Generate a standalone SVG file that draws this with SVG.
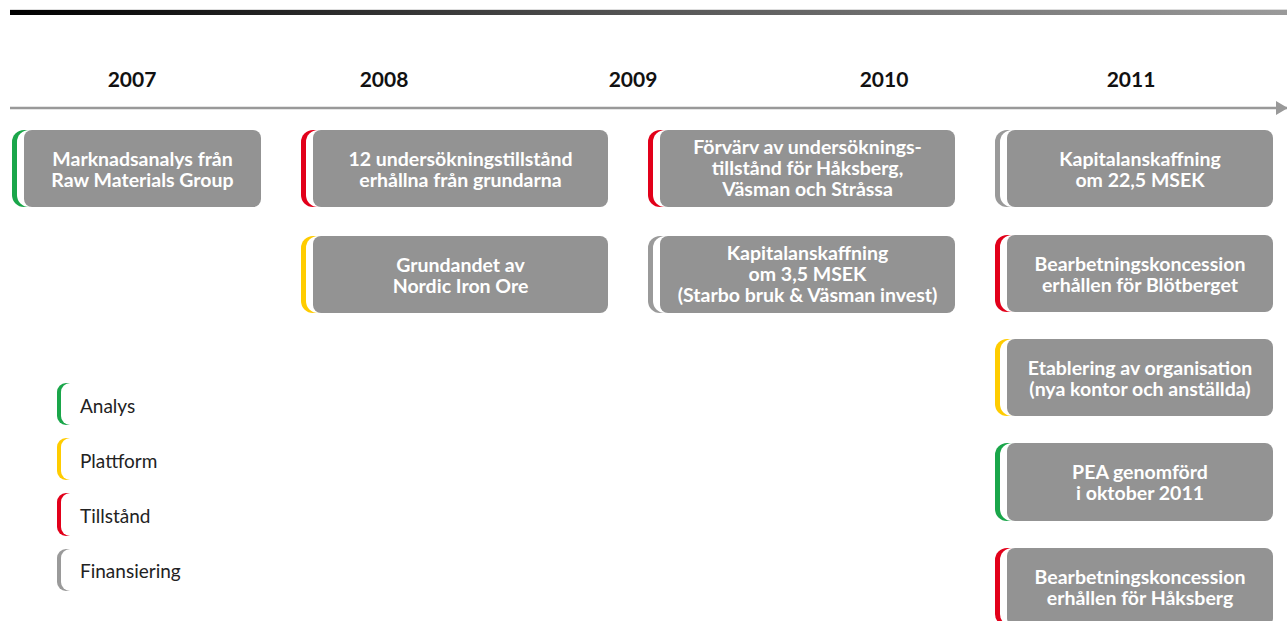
<svg xmlns="http://www.w3.org/2000/svg" width="1287" height="621" viewBox="0 0 1287 621">
<defs>
<linearGradient id="bar" x1="0" y1="0" x2="1" y2="0">
<stop offset="0" stop-color="#000"/>
<stop offset="0.5" stop-color="#555"/>
<stop offset="1" stop-color="#9a9a9a"/>
</linearGradient>
<marker id="arr" markerWidth="12" markerHeight="14" refX="11" refY="7" orient="auto" markerUnits="userSpaceOnUse">
<path d="M0,0 L12,7 L0,14 Z" fill="#999"/>
</marker>
</defs>
<style>
.box{fill:#939393}
.bt{font-family:Lato,"Liberation Sans",sans-serif;font-weight:bold;font-size:19.5px;fill:#fff;text-anchor:middle}
.yr{font-family:Lato,"Liberation Sans",sans-serif;font-weight:bold;font-size:21px;fill:#111;text-anchor:middle}
.lg{font-family:Lato,"Liberation Sans",sans-serif;font-size:19px;fill:#222}
.g{fill:#1aa64a}.y{fill:#ffcc00}.r{fill:#e2001a}.f{fill:#9a9a9a}
.w{fill:#fff}
</style>
<rect x="10" y="9" width="1277" height="1" fill="#ddd"/>
<rect x="10" y="10" width="1277" height="5" fill="url(#bar)"/>
<g id="years">
<text class="yr" x="132" y="87">2007</text>
<text class="yr" x="384" y="87">2008</text>
<text class="yr" x="633" y="87">2009</text>
<text class="yr" x="884" y="87">2010</text>
<text class="yr" x="1131" y="87">2011</text>
</g>
<g id="connectors">
<line x1="10" y1="108" x2="1287" y2="108" stroke="#999" stroke-width="2.5" marker-end="url(#arr)"/>
</g>
<g id="n2007a">
<rect class="g" x="12" y="130" width="40" height="77" rx="12"/>
<rect class="w" x="17" y="130" width="40" height="77" rx="12"/>
<rect class="box" x="24" y="130" width="237" height="77" rx="8"/>
<text class="bt" x="142.5" y="166">Marknadsanalys från</text>
<text class="bt" x="142.5" y="187">Raw Materials Group</text>
</g>
<g id="n2008a">
<rect class="r" x="301" y="130" width="40" height="77" rx="12"/>
<rect class="w" x="306" y="130" width="40" height="77" rx="12"/>
<rect class="box" x="313" y="130" width="295" height="77" rx="8"/>
<text class="bt" x="460.5" y="166">12 undersökningstillstånd</text>
<text class="bt" x="460.5" y="187">erhållna från grundarna</text>
</g>
<g id="n2008b">
<rect class="y" x="301" y="236" width="40" height="77" rx="12"/>
<rect class="w" x="306" y="236" width="40" height="77" rx="12"/>
<rect class="box" x="313" y="236" width="295" height="77" rx="8"/>
<text class="bt" x="460.5" y="272">Grundandet av</text>
<text class="bt" x="460.5" y="293">Nordic Iron Ore</text>
</g>
<g id="n2010a">
<rect class="r" x="648" y="130" width="40" height="77" rx="12"/>
<rect class="w" x="653" y="130" width="40" height="77" rx="12"/>
<rect class="box" x="660" y="130" width="295" height="77" rx="8"/>
<text class="bt" x="807.5" y="154">Förvärv av undersöknings-</text>
<text class="bt" x="807.5" y="175">tillstånd för Håksberg,</text>
<text class="bt" x="807.5" y="196">Väsman och Stråssa</text>
</g>
<g id="n2010b">
<rect class="f" x="648" y="236" width="40" height="77" rx="12"/>
<rect class="w" x="653" y="236" width="40" height="77" rx="12"/>
<rect class="box" x="660" y="236" width="295" height="77" rx="8"/>
<text class="bt" x="807.5" y="260">Kapitalanskaffning</text>
<text class="bt" x="807.5" y="281">om 3,5 MSEK</text>
<text class="bt" x="807.5" y="302">(Starbo bruk &amp; Väsman invest)</text>
</g>
<g id="n2011a">
<rect class="f" x="995" y="130" width="40" height="77" rx="12"/>
<rect class="w" x="1000" y="130" width="40" height="77" rx="12"/>
<rect class="box" x="1007" y="130" width="266" height="77" rx="8"/>
<text class="bt" x="1140" y="166">Kapitalanskaffning</text>
<text class="bt" x="1140" y="187">om 22,5 MSEK</text>
</g>
<g id="n2011b">
<rect class="r" x="995" y="235" width="40" height="77" rx="12"/>
<rect class="w" x="1000" y="235" width="40" height="77" rx="12"/>
<rect class="box" x="1007" y="235" width="266" height="77" rx="8"/>
<text class="bt" x="1140" y="271">Bearbetningskoncession</text>
<text class="bt" x="1140" y="292">erhållen för Blötberget</text>
</g>
<g id="n2011c">
<rect class="y" x="995" y="339" width="40" height="77" rx="12"/>
<rect class="w" x="1000" y="339" width="40" height="77" rx="12"/>
<rect class="box" x="1007" y="339" width="266" height="77" rx="8"/>
<text class="bt" x="1140" y="375">Etablering av organisation</text>
<text class="bt" x="1140" y="396">(nya kontor och anställda)</text>
</g>
<g id="n2011d">
<rect class="g" x="995" y="443" width="40" height="78" rx="12"/>
<rect class="w" x="1000" y="443" width="40" height="78" rx="12"/>
<rect class="box" x="1007" y="443" width="266" height="78" rx="8"/>
<text class="bt" x="1140" y="479">PEA genomförd</text>
<text class="bt" x="1140" y="500">i oktober 2011</text>
</g>
<g id="n2011e">
<rect class="r" x="995" y="548" width="40" height="78" rx="12"/>
<rect class="w" x="1000" y="548" width="40" height="78" rx="12"/>
<rect class="box" x="1007" y="548" width="266" height="78" rx="8"/>
<text class="bt" x="1140" y="584">Bearbetningskoncession</text>
<text class="bt" x="1140" y="605">erhållen för Håksberg</text>
</g>
<g id="legend">
<rect class="g" x="57" y="383" width="30" height="42" rx="9"/>
<rect class="w" x="61" y="383" width="30" height="42" rx="9"/>
<text class="lg" x="80" y="413">Analys</text>
<rect class="y" x="57" y="438" width="30" height="42" rx="9"/>
<rect class="w" x="61" y="438" width="30" height="42" rx="9"/>
<text class="lg" x="80" y="468">Plattform</text>
<rect class="r" x="57" y="493" width="30" height="43" rx="9"/>
<rect class="w" x="61" y="493" width="30" height="43" rx="9"/>
<text class="lg" x="80" y="523">Tillstånd</text>
<rect class="f" x="57" y="549" width="30" height="42" rx="9"/>
<rect class="w" x="61" y="549" width="30" height="42" rx="9"/>
<text class="lg" x="80" y="578">Finansiering</text>
</g>
</svg>
